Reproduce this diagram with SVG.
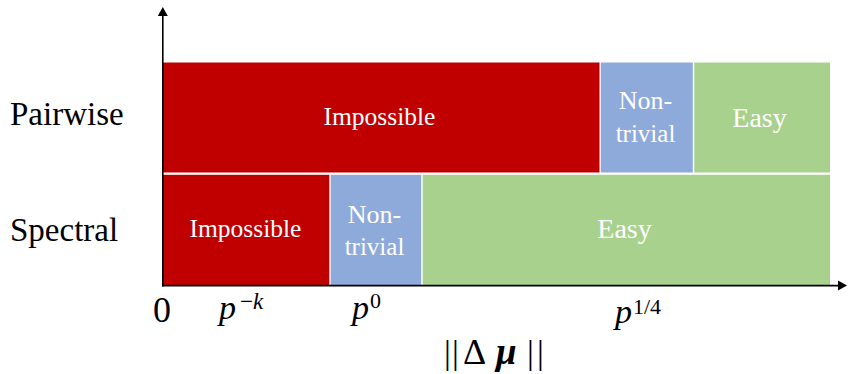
<svg xmlns="http://www.w3.org/2000/svg" width="848" height="374" viewBox="0 0 848 374">
<rect width="848" height="374" fill="#fff"/>
<g id="pairwise-impossible"><rect fill="#c00000" x="163" y="62.5" width="436.5" height="110"/><text fill="#fff" style="font-family:'Liberation Serif';font-size:25.5px" text-anchor="middle" x="379.5" y="125">Impossible</text></g>
<g id="pairwise-nontrivial"><rect fill="#8eaadb" x="600.8" y="62.5" width="92" height="110"/><text fill="#fff" style="font-family:'Liberation Serif';font-size:26px" text-anchor="middle" x="645.5" y="109">Non-</text><text fill="#fff" style="font-family:'Liberation Serif';font-size:25px" text-anchor="middle" x="645.5" y="142">trivial</text></g>
<g id="pairwise-easy"><rect fill="#a9d18e" x="694.3" y="62.5" width="135.7" height="110"/><text fill="#fff" style="font-family:'Liberation Serif';font-size:28px" text-anchor="middle" x="759.5" y="127">Easy</text></g>
<g id="spectral-impossible"><rect fill="#c00000" x="163" y="174.8" width="166.3" height="110.5"/><text fill="#fff" style="font-family:'Liberation Serif';font-size:25.5px" text-anchor="middle" x="245.5" y="237">Impossible</text></g>
<g id="spectral-nontrivial"><rect fill="#8eaadb" x="330.7" y="174.8" width="90.5" height="110.5"/><text fill="#fff" style="font-family:'Liberation Serif';font-size:26px" text-anchor="middle" x="374.5" y="223">Non-</text><text fill="#fff" style="font-family:'Liberation Serif';font-size:25px" text-anchor="middle" x="374.5" y="255">trivial</text></g>
<g id="spectral-easy"><rect fill="#a9d18e" x="422.7" y="174.8" width="407.3" height="110.5"/><text fill="#fff" style="font-family:'Liberation Serif';font-size:28px" text-anchor="middle" x="624.5" y="238">Easy</text></g>
<g id="connectors">
<line x1="162.8" y1="286.5" x2="162.8" y2="16" stroke="#000" stroke-width="1.6"/>
<path d="M157.8,16 L167.8,16 L162.8,7 z" fill="#000"/>
<line x1="162" y1="285.6" x2="838" y2="285.6" stroke="#000" stroke-width="1.6"/>
<path d="M838,280.6 L838,290.6 L847,285.6 z" fill="#000"/>
</g>
<g id="row-labels">
<text fill="#000" style="font-family:'Liberation Serif';font-size:33px" x="10" y="125">Pairwise</text>
<text fill="#000" style="font-family:'Liberation Serif';font-size:33px" x="10" y="241">Spectral</text>
</g>
<g id="axis-labels">
<text fill="#000" style="font-family:'Liberation Serif';font-size:36px" text-anchor="middle" x="162" y="322">0</text>
<text fill="#000" style="font-family:'Liberation Serif';font-size:34px;font-style:italic" x="219" y="319">p</text>
<text fill="#000" style="font-family:'Liberation Serif';font-size:23px" x="240" y="309">&#8722;<tspan style="font-style:italic">k</tspan></text>
<text fill="#000" style="font-family:'Liberation Serif';font-size:34px;font-style:italic" x="352" y="319">p</text>
<text fill="#000" style="font-family:'Liberation Serif';font-size:22px" x="370" y="308">0</text>
<text fill="#000" style="font-family:'Liberation Serif';font-size:34px;font-style:italic" x="615" y="323">p</text>
<text fill="#000" style="font-family:'Liberation Serif';font-size:22px" x="633" y="314">1/4</text>
<text fill="#000" style="font-family:'Liberation Serif';font-size:34px" y="364"><tspan x="444">|</tspan><tspan x="452">|</tspan><tspan x="463" style="font-size:36px">&#916;</tspan><tspan x="496" style="font-weight:bold;font-style:italic;font-size:37px">&#956;</tspan><tspan x="527">|</tspan><tspan x="537">|</tspan></text>
</g>
</svg>
